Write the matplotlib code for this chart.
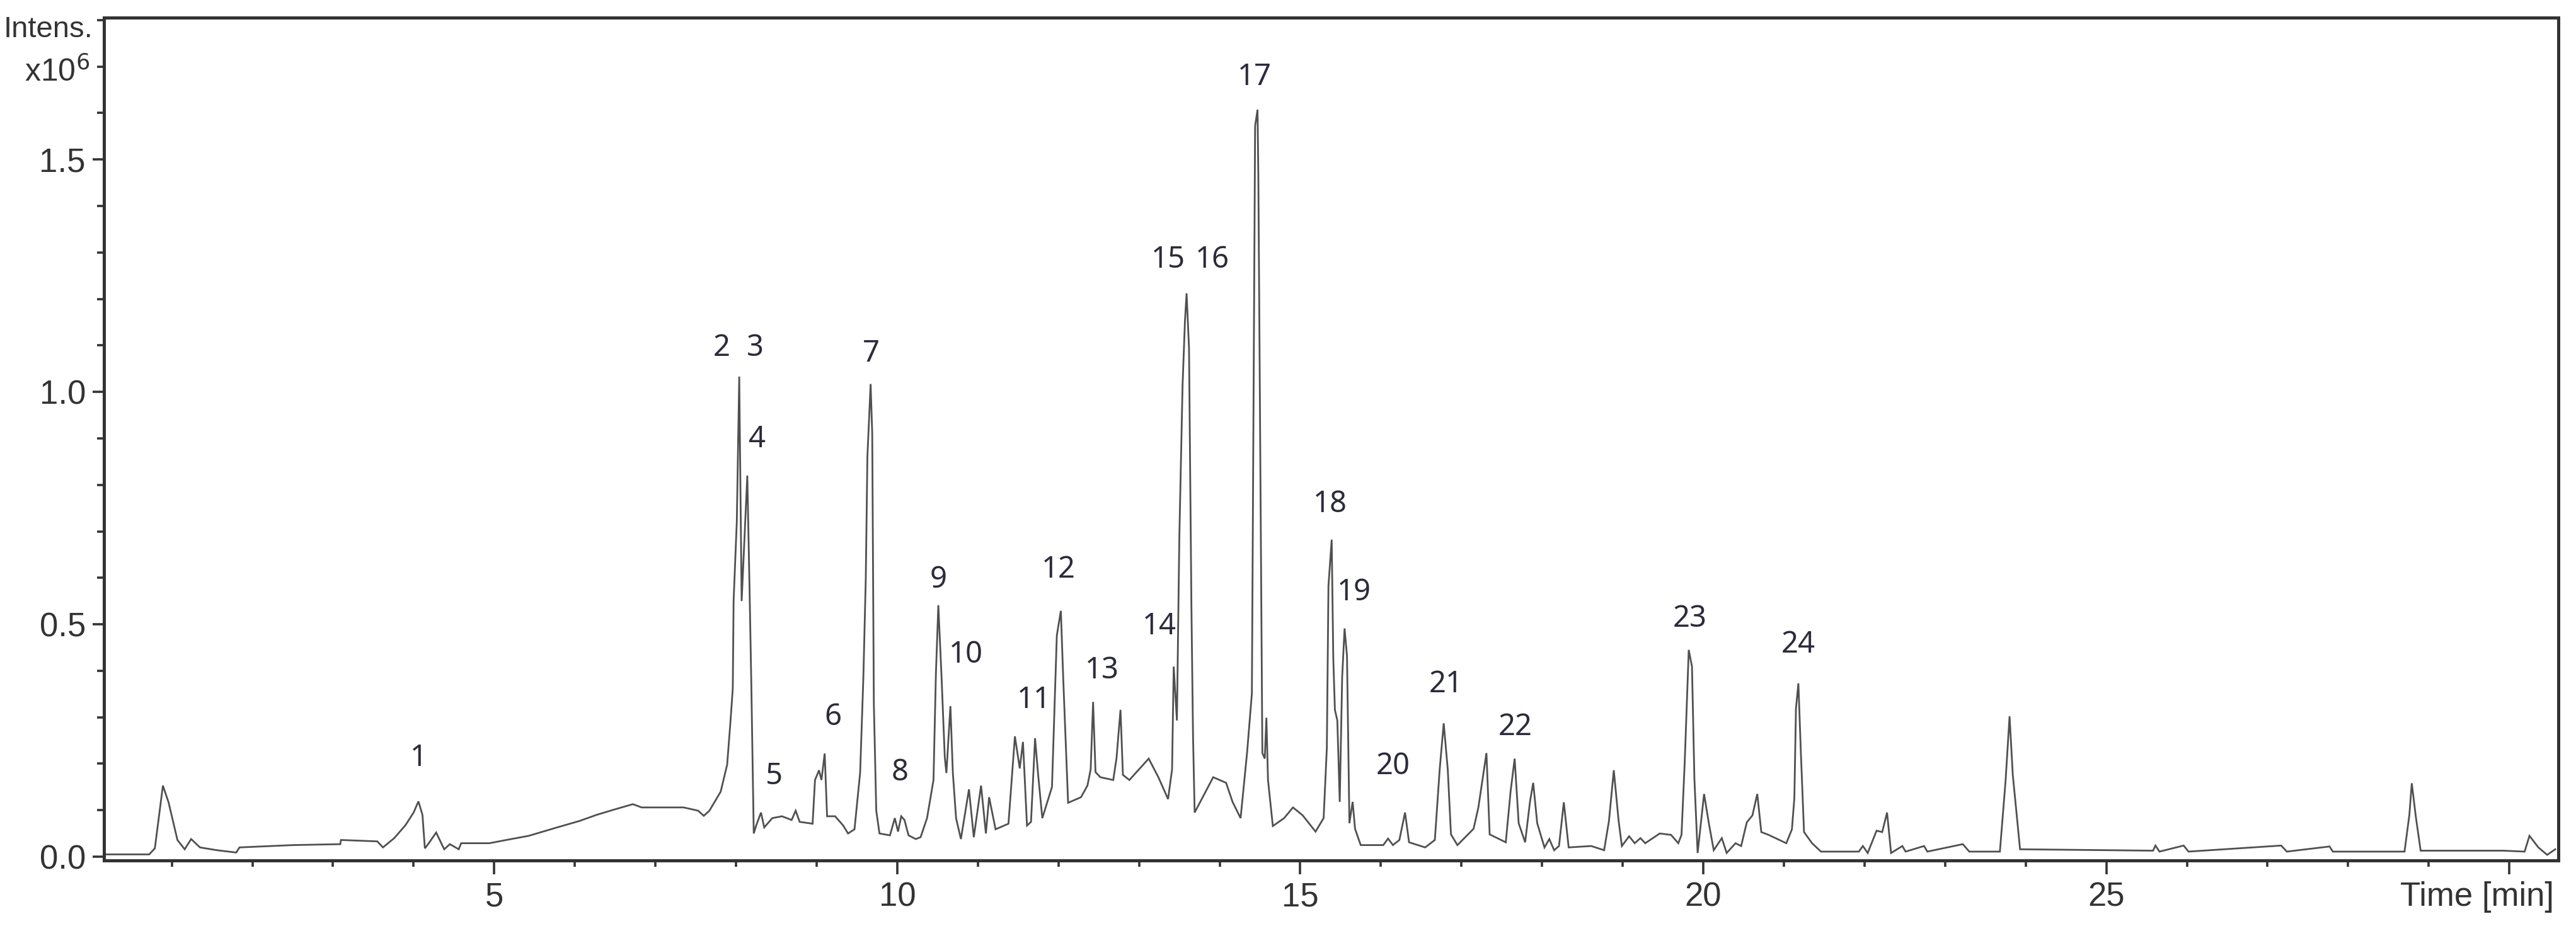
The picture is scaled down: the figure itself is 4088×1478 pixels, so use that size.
import matplotlib
matplotlib.use('Agg')
import matplotlib.pyplot as plt
from matplotlib.ticker import MultipleLocator, FixedLocator
from matplotlib.transforms import offset_copy

# chromatogram trace: retention time (min) and intensity (x10^6)
time_min = [
    0.16, 0.72, 0.79, 0.89, 0.96, 1.07, 1.16, 1.24, 1.35, 1.56, 1.80, 1.84, 2.50, 3.09, 3.10,
    3.55, 3.62, 3.76, 3.90, 4.00, 4.06, 4.11, 4.14, 4.18, 4.28, 4.38, 4.45, 4.56, 4.59, 4.94,
    5.15, 5.43, 5.78, 6.06, 6.27, 6.48, 6.72, 6.83, 7.35, 7.53, 7.60, 7.67, 7.81, 7.89, 7.93,
    7.96, 7.97, 8.01, 8.04, 8.07, 8.14, 8.17, 8.19, 8.22, 8.25, 8.31, 8.35, 8.45, 8.57, 8.69,
    8.74, 8.79, 8.95, 8.98, 9.03, 9.06, 9.10, 9.13, 9.23, 9.33, 9.39, 9.47, 9.54, 9.58, 9.61,
    9.63, 9.67, 9.69, 9.71, 9.74, 9.78, 9.91, 9.97, 10.01, 10.05, 10.09, 10.14, 10.23, 10.29,
    10.37, 10.45, 10.48, 10.51, 10.55, 10.59, 10.61, 10.66, 10.69, 10.73, 10.79, 10.89, 10.95,
    11.04, 11.10, 11.14, 11.22, 11.38, 11.46, 11.52, 11.56, 11.61, 11.66, 11.71, 11.75, 11.80,
    11.92, 11.98, 12.03, 12.06, 12.12, 12.28, 12.36, 12.40, 12.43, 12.46, 12.52, 12.68, 12.72,
    12.77, 12.80, 12.88, 13.12, 13.24, 13.36, 13.41, 13.43, 13.47, 13.50, 13.54, 13.57, 13.59,
    13.62, 13.65, 13.67, 13.69, 13.92, 14.08, 14.16, 14.26, 14.34, 14.40, 14.42, 14.44, 14.47,
    14.48, 14.51, 14.53, 14.56, 14.58, 14.60, 14.66, 14.80, 14.91, 15.03, 15.19, 15.29, 15.33,
    15.35, 15.39, 15.41, 15.43, 15.46, 15.49, 15.52, 15.55, 15.58, 15.61, 15.65, 15.68, 15.75,
    16.03, 16.09, 16.15, 16.23, 16.30, 16.35, 16.55, 16.67, 16.73, 16.78, 16.83, 16.87, 16.95,
    17.15, 17.21, 17.25, 17.31, 17.35, 17.55, 17.61, 17.66, 17.71, 17.79, 17.85, 17.89, 17.94,
    18.03, 18.09, 18.15, 18.21, 18.27, 18.33, 18.61, 18.77, 18.83, 18.89, 18.95, 18.99, 19.08,
    19.15, 19.22, 19.28, 19.46, 19.60, 19.69, 19.73, 19.77, 19.82, 19.86, 19.89, 19.93, 20.01,
    20.07, 20.13, 20.23, 20.29, 20.40, 20.47, 20.54, 20.61, 20.67, 20.72, 20.81, 21.03, 21.10,
    21.13, 21.15, 21.18, 21.21, 21.25, 21.35, 21.46, 21.93, 21.98, 22.04, 22.15, 22.22, 22.28,
    22.33, 22.47, 22.51, 22.74, 22.78, 23.22, 23.30, 23.68, 23.75, 23.80, 23.84, 23.93, 25.58,
    25.61, 25.66, 25.96, 26.02, 27.17, 27.24, 27.77, 27.81, 28.70, 28.76, 28.79, 28.84, 28.90,
    29.92, 30.19, 30.25, 30.36, 30.47, 30.57,
]
intensity = [
    0.005, 0.005, 0.018, 0.153, 0.117, 0.036, 0.016, 0.038, 0.020, 0.014, 0.009, 0.020, 0.025, 0.027, 0.036,
    0.033, 0.020, 0.040, 0.068, 0.095, 0.119, 0.090, 0.018, 0.027, 0.052, 0.016, 0.027, 0.016, 0.029, 0.029,
    0.036, 0.045, 0.063, 0.077, 0.090, 0.101, 0.113, 0.106, 0.106, 0.099, 0.088, 0.099, 0.140, 0.198, 0.288,
    0.362, 0.550, 0.722, 1.033, 0.550, 0.820, 0.558, 0.370, 0.050, 0.067, 0.095, 0.063, 0.083, 0.087, 0.079,
    0.099, 0.075, 0.071, 0.165, 0.186, 0.165, 0.222, 0.087, 0.087, 0.067, 0.050, 0.059, 0.181, 0.386, 0.599,
    0.861, 1.017, 0.910, 0.329, 0.099, 0.050, 0.046, 0.083, 0.054, 0.087, 0.079, 0.046, 0.038, 0.042,
    0.083, 0.165, 0.394, 0.541, 0.386, 0.214, 0.180, 0.324, 0.181, 0.083, 0.038, 0.145, 0.042,
    0.153, 0.050, 0.128, 0.059, 0.071, 0.259, 0.190, 0.247, 0.067, 0.075, 0.255, 0.173, 0.083,
    0.150, 0.476, 0.529, 0.381, 0.116, 0.128, 0.153, 0.188, 0.333, 0.182, 0.171, 0.165, 0.211,
    0.316, 0.176, 0.165, 0.211, 0.171, 0.124, 0.188, 0.409, 0.293, 0.688, 1.014, 1.154, 1.212,
    1.095, 0.537, 0.258, 0.095, 0.171, 0.159, 0.118, 0.083, 0.223, 0.351, 0.956, 1.572, 1.607,
    1.468, 0.723, 0.223, 0.211, 0.299, 0.165, 0.066, 0.083, 0.106, 0.089, 0.054, 0.083, 0.234,
    0.583, 0.682, 0.426, 0.316, 0.293, 0.118, 0.386, 0.491, 0.432, 0.072, 0.118, 0.060, 0.025,
    0.025, 0.039, 0.025, 0.036, 0.095, 0.031, 0.020, 0.036, 0.188, 0.287, 0.188, 0.048, 0.025,
    0.060, 0.106, 0.153, 0.223, 0.048, 0.031, 0.141, 0.211, 0.072, 0.031, 0.118, 0.159, 0.072,
    0.020, 0.038, 0.014, 0.023, 0.117, 0.020, 0.023, 0.014, 0.077, 0.186, 0.077, 0.023, 0.044,
    0.029, 0.040, 0.029, 0.050, 0.047, 0.029, 0.047, 0.204, 0.445, 0.409, 0.168, 0.008, 0.135,
    0.071, 0.014, 0.040, 0.008, 0.029, 0.023, 0.074, 0.089, 0.135, 0.053, 0.047, 0.029, 0.059,
    0.126, 0.319, 0.373, 0.228, 0.053, 0.029, 0.011, 0.011, 0.023, 0.008, 0.056, 0.053, 0.095,
    0.008, 0.023, 0.011, 0.023, 0.011, 0.027, 0.011, 0.011, 0.162, 0.302, 0.176, 0.016, 0.013,
    0.024, 0.011, 0.024, 0.011, 0.024, 0.011, 0.022, 0.011, 0.011, 0.090, 0.158, 0.086, 0.013,
    0.013, 0.011, 0.045, 0.020, 0.004, 0.016,
]

# peak numbers and where their labels sit (time, intensity)
peak_ids = [str(i) for i in range(1, 25)]
label_t = [4.06, 7.82, 8.24, 8.26, 8.47, 9.20, 9.68, 10.03, 10.51, 10.85, 11.70, 12.00,
           12.54, 13.25, 13.57, 13.70, 14.43, 15.37, 15.67, 16.15, 16.81, 17.67, 19.83, 21.18]
label_i = [0.212, 1.095, 1.095, 0.898, 0.173, 0.300, 1.082, 0.181, 0.595, 0.435, 0.337, 0.617,
           0.400, 0.496, 1.284, 1.284, 1.677, 0.758, 0.568, 0.194, 0.371, 0.278, 0.512, 0.456]
# 15 and 16 sit side by side, so they are anchored at their facing edges
label_ha = ['center'] * 14 + ['right', 'left'] + ['center'] * 8

x_major = [5, 10, 15, 20, 25, 30]
x_labels = ['5', '10', '15', '20', '25', '']
y_major = [0.0, 0.5, 1.0, 1.5]
y_labels = ['0.0', '0.5', '1.0', '1.5']

tick_font = ['Liberation Sans', 'DejaVu Sans']
ink = '#333333'

fig = plt.figure(figsize=(20.44, 7.39), dpi=200)
ax = fig.add_axes([0.0404, 0.0758, 0.9528, 0.9052])

ax.plot(time_min, intensity, color='#505050', lw=1.0, solid_joinstyle='miter')

for pid, t, v, ha in zip(peak_ids, label_t, label_i, label_ha):
    ax.text(t, v, pid, ha=ha, va='center', fontsize=17, color='#2b2b3a',
            family=['Noto Sans', 'DejaVu Sans'])

ax.set_xlim(0.16, 30.61)
ax.set_ylim(-0.008, 1.805)

ax.xaxis.set_major_locator(FixedLocator(x_major))
ax.set_xticklabels(x_labels)
ax.xaxis.set_minor_locator(MultipleLocator(1))
ax.yaxis.set_major_locator(FixedLocator(y_major))
ax.set_yticklabels(y_labels)
ax.yaxis.set_minor_locator(MultipleLocator(0.1))

ax.tick_params(axis='x', which='major', length=8, width=1.3, color=ink, pad=4, labelsize=19, labelcolor=ink)
ax.tick_params(axis='x', which='minor', length=3.6, width=1.3, color=ink)
ax.tick_params(axis='y', which='major', length=6.5, width=1.3, color=ink, pad=4, labelsize=19, labelcolor=ink)
ax.tick_params(axis='y', which='minor', length=4, width=1.3, color=ink)
for lab in ax.get_xticklabels() + ax.get_yticklabels():
    lab.set_family(tick_font)

for side in ['left', 'bottom', 'top', 'right']:
    ax.spines[side].set_color(ink)
    ax.spines[side].set_linewidth(1.8)

# x axis title sits in the tick label row, at the right end
xlab_tr = offset_copy(ax.get_xaxis_transform(), fig=fig, y=-12, units='points')
ax.text(30.55, 0, 'Time [min]', transform=xlab_tr, ha='right', va='top',
        fontsize=19, color=ink, family=tick_font)

fig.text(148 / 4088, 1 - 47 / 1478, 'Intens.', ha='right', va='center', fontsize=17, color=ink, family=tick_font)
fig.text(142 / 4088, 1 - 114 / 1478, r'x10$^6$', ha='right', va='center', fontsize=18, color=ink, family=tick_font)

fig.savefig('out.png', dpi=200, facecolor='white')
